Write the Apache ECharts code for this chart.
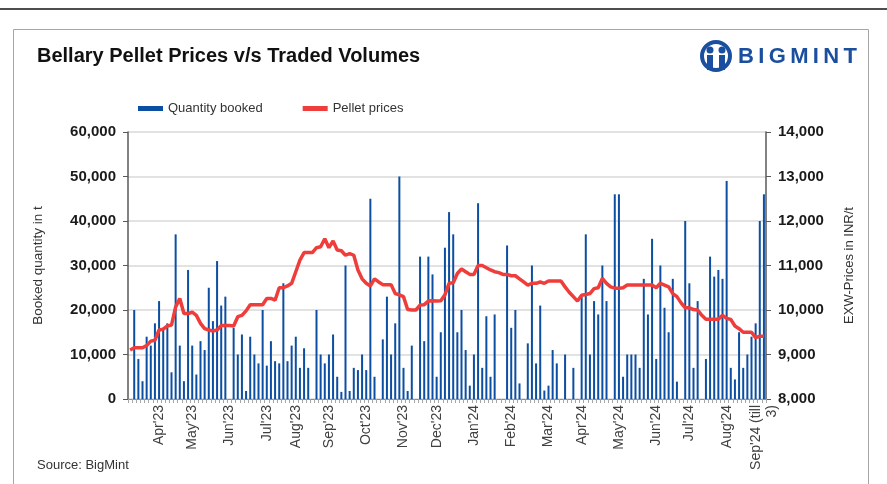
<!DOCTYPE html>
<html>
<head>
<meta charset="utf-8">
<script src="https://cdn.jsdelivr.net/npm/echarts@6/dist/echarts.min.js"></script>
<style>
  html, body { margin: 0; padding: 0; background: #ffffff; }
  #chart { width: 887px; height: 484px; }
</style>
</head>
<body>
<div id="chart"></div>
<script>
// Booked quantity (t) per trade slot; null = no trade in that slot
const quantityBooked = [
  null, 20000, 9000, 4000, 14000, 12000, 17000, 22000, 16000, 17000,
  6000, 37000, 12000, 4000, 29000, 12000, 5500, 13000, 11000, 25000,
  17500, 31000, 21000, 23000, null, 16000, 10000, 14500, 1800, 14000,
  10000, 8000, 20000, 7500, 13000, 8500, 8000, 26000, 8500, 12000,
  14000, 7000, 11400, 7000, null, 20000, 10000, 8000, 10000, 14500,
  5000, 1600, 30000, 1800, 7000, 6500, 10000, 6500, 45000, 5000,
  null, 13400, 23000, 10000, 17000, 50000, 7000, 1800, 12000, null,
  32000, 13000, 32000, 28000, 5000, 15000, 34000, 42000, 37000, 15000,
  20000, 11000, 3000, 10000, 44000, 7000, 18600, 5000, 19000, null,
  null, 34500, 16000, 20000, 3500, null, 12500, 30000, 8000, 21000,
  1900, 3000, 11000, 8000, null, 10000, null, 7000, null, 23000,
  37000, 10000, 22000, 19000, 30000, 22000, null, 46000, 46000, 5000,
  10000, 10000, 10000, 7000, 27000, 19000, 36000, 9000, 30000, 20500,
  15000, 27000, 3900, null, 40000, 26000, 7000, 22000, null, 9000,
  32000, 27500, 29000, 27000, 49000, 7000, 4400, 15000, 7000, 10000,
  14000, 17000, 40000, 46000
];

// EXW pellet prices (INR/t) per trade slot
const pelletPrices = [
  9100, 9150, 9150, 9150, 9200, 9300, 9320, 9550, 9570, 9640,
  9660, 10070, 10260, 9920, 9920, 9950, 9880, 9700, 9580, 9550,
  9530, 9550, 9650, 9650, 9650, 9640, 9850, 9880, 9980, 10120,
  10120, 10120, 10120, 10260, 10260, 10220, 10500, 10500, 10540, 10600,
  10860, 11120, 11290, 11290, 11290, 11400, 11420, 11600, 11400, 11550,
  11350, 11330, 11230, 11270, 11230, 10900, 10700, 10600, 10540, 10700,
  10630, 10570, 10570, 10570, 10370, 10340, 10300, 10010, 10000, 10000,
  10110, 10120, 10200, 10210, 10200, 10210, 10340, 10600, 10610, 10820,
  10920, 10860, 10800, 10800, 11000, 11000, 10950, 10900, 10860, 10840,
  10800, 10800, 10770, 10770, 10700, 10630, 10560, 10600, 10600, 10630,
  10600, 10650, 10650, 10650, 10650, 10520, 10400, 10300, 10200, 10330,
  10350, 10370, 10480, 10500, 10710, 10600, 10520, 10490, 10490, 10500,
  10560, 10560, 10560, 10560, 10560, 10560, 10560, 10500, 10600, 10560,
  10520, 10370, 10300, 10160, 10050, 10050, 10010, 10000, 9880, 9790,
  9790, 9790, 9790, 9880, 9810, 9790, 9640, 9580, 9500, 9500,
  9500, 9380, 9410, 9410
];

// Month tick labels and the trade slot where each month begins
const monthLabels = ["Apr'23", "May'23", "Jun'23", "Jul'23", "Aug'23", "Sep'23", "Oct'23", "Nov'23", "Dec'23",
  "Jan'24", "Feb'24", "Mar'24", "Apr'24", "May'24", "Jun'24", "Jul'24", "Aug'24", "Sep'24 (till\n3)"];
const monthSlots = [7, 15, 24, 33, 40, 48, 57, 66, 74, 83, 92, 101, 109, 118, 127, 135, 144, 153];

const leftTicks = { min: 0, max: 60000, interval: 10000 };
const rightTicks = { min: 8000, max: 14000, interval: 1000 };

const categories = pelletPrices.map((_, i) => 'slot' + i);
const labelAt = {};
monthSlots.forEach((s, k) => { labelAt[s] = monthLabels[k]; });

const FONT = '"Liberation Sans", Arial, sans-serif';
const fmt = v => v.toLocaleString('en-US');
const BLUE_LOGO = '#1a4f9f';

// Spaced logo letters
const logoText = 'BIGMINT';
const logoFont = 'bold 22px ' + FONT;
const mctx = document.createElement('canvas').getContext('2d');
mctx.font = logoFont;
const logoEls = [];
{
  const widths = logoText.split('').map(c => mctx.measureText(c).width);
  const total = 119;
  const sum = widths.reduce((a, b) => a + b, 0);
  const gap = (total - sum) / (logoText.length - 1);
  let x = 738;
  logoText.split('').forEach((c, i) => {
    logoEls.push({ type: 'text', x: x, y: 46, style: { text: c, font: logoFont, fill: BLUE_LOGO } });
    x += widths[i] + gap;
  });
}

const chart = echarts.init(document.getElementById('chart'), null, { renderer: 'canvas' });
chart.setOption({
  backgroundColor: '#ffffff',
  animation: false,
  textStyle: { fontFamily: FONT },
  title: {
    text: 'Bellary Pellet Prices v/s Traded Volumes',
    left: 32, top: 41,
    textStyle: { fontFamily: FONT, fontSize: 20, fontWeight: 'bold', color: '#111111' }
  },
  legend: {
    left: 133, top: 97,
    itemWidth: 25, itemHeight: 5, itemGap: 40,
    textStyle: { fontFamily: FONT, fontSize: 13, color: '#333333' },
    data: [
      { name: 'Quantity booked', icon: 'rect', itemStyle: { color: '#0B4EA2' } },
      { name: 'Pellet prices', icon: 'rect', itemStyle: { color: '#EE3D3A' } }
    ]
  },
  grid: { left: 128, right: 121, top: 132, bottom: 85, containLabel: false },
  xAxis: {
    type: 'category',
    data: categories,
    boundaryGap: true,
    axisLine: { lineStyle: { color: '#8c8c8c', width: 1 } },
    axisTick: { show: true, interval: 0, length: 4, lineStyle: { color: '#a6a6a6' } },
    axisLabel: {
      interval: 0, rotate: 90, margin: 6, hideOverlap: false,
      fontFamily: FONT, fontSize: 14, color: '#404040', lineHeight: 16,
      formatter: (v, i) => labelAt[i] || ''
    }
  },
  yAxis: [
    {
      type: 'value', position: 'left',
      min: leftTicks.min, max: leftTicks.max, interval: leftTicks.interval,
      name: 'Booked quantity in t', nameLocation: 'middle', nameRotate: 90, nameGap: 83,
      nameTextStyle: { fontFamily: FONT, fontSize: 13.5, color: '#333333' },
      axisLine: { show: true, lineStyle: { color: '#595959', width: 1.5 } },
      axisTick: { show: true, length: 5, lineStyle: { color: '#595959' } },
      axisLabel: { margin: 12, fontFamily: FONT, fontSize: 15, fontWeight: 'bold', color: '#1a1a1a', formatter: fmt },
      splitLine: { show: true, lineStyle: { color: '#d9d9d9', width: 1.5 } }
    },
    {
      type: 'value', position: 'right',
      min: rightTicks.min, max: rightTicks.max, interval: rightTicks.interval,
      name: 'EXW-Prices in INR/t', nameLocation: 'middle', nameRotate: 90, nameGap: 77,
      nameTextStyle: { fontFamily: FONT, fontSize: 13, color: '#333333' },
      axisLine: { show: true, lineStyle: { color: '#595959', width: 1.5 } },
      axisTick: { show: true, length: 5, lineStyle: { color: '#595959' } },
      axisLabel: { margin: 12, fontFamily: FONT, fontSize: 15, fontWeight: 'bold', color: '#1a1a1a', formatter: fmt },
      splitLine: { show: false }
    }
  ],
  series: [
    {
      name: 'Quantity booked', type: 'bar', yAxisIndex: 0,
      data: quantityBooked, barWidth: 2,
      itemStyle: { color: '#0B4EA2' }
    },
    {
      name: 'Pellet prices', type: 'line', yAxisIndex: 1,
      data: pelletPrices, symbol: 'none', smooth: false,
      lineStyle: { color: '#EE3D3A', width: 3.5 },
      itemStyle: { color: '#EE3D3A' }, z: 5
    }
  ],
  graphic: [
    { type: 'line', shape: { x1: 0, y1: 9, x2: 887, y2: 9 }, style: { stroke: '#4d4d4d', lineWidth: 2 } },
    { type: 'rect', shape: { x: 13.5, y: 29.5, width: 855, height: 470 }, style: { fill: 'none', stroke: '#a6a6a6', lineWidth: 1 } },
    { type: 'text', left: 37, top: 459, style: { text: 'Source: BigMint', font: '13px ' + FONT, fill: '#333333' } },
    { type: 'circle', shape: { cx: 716, cy: 56, r: 14 }, style: { fill: 'none', stroke: BLUE_LOGO, lineWidth: 4 } },
    { type: 'circle', shape: { cx: 710, cy: 50, r: 3.5 }, style: { fill: BLUE_LOGO } },
    { type: 'circle', shape: { cx: 722, cy: 50, r: 3.5 }, style: { fill: BLUE_LOGO } },
    { type: 'rect', shape: { x: 707, y: 55, width: 6, height: 15 }, style: { fill: BLUE_LOGO } },
    { type: 'rect', shape: { x: 719, y: 55, width: 6, height: 15 }, style: { fill: BLUE_LOGO } }
  ].concat(logoEls)
});
</script>
</body>
</html>
